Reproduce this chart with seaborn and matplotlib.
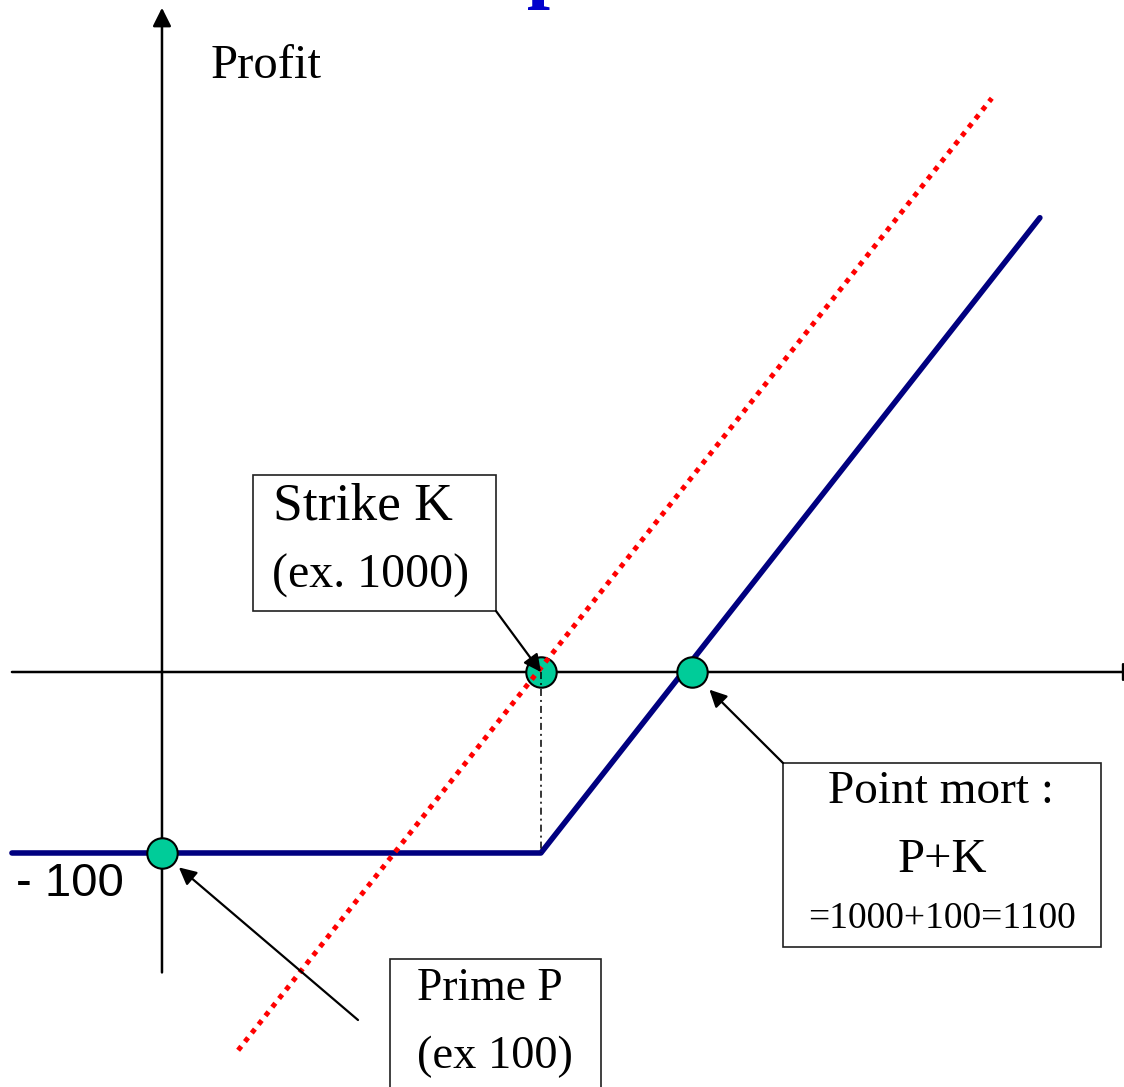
import pandas as pd
import seaborn as sns
import matplotlib.pyplot as plt
from matplotlib.patches import Rectangle

# Schematic units: x = position along the price axis (strike drawn at 1000),
# y = profit. The drawing is not to scale, like the original slide.
call_x = [-396, 1000, 2317]
call_y = [-100, -100, 251]
underlying_x = [201, 2190]
underlying_y = [-209, 317]
strike_x = [1000, 1000]
strike_y = [0, -100]
points_x = [0, 1000, 1398]
points_y = [-100, 0, 0]

W, H = 1124, 1087


def fx(px):
    return px / W


def fy(py):
    return 1 - py / H


sns.set_theme(style="white")
plt.rcParams["font.family"] = ["Liberation Serif", "DejaVu Serif"]
plt.rcParams["text.color"] = "black"

fig = plt.figure(figsize=(W / 100, H / 100), dpi=100)
ax = fig.add_axes([0, 0, 1, 1])

# axes with arrows
ax.annotate("", xy=(0, 367), xytext=(0, -166),
            arrowprops=dict(arrowstyle="-|>", color="black", lw=1.8,
                            mutation_scale=28, shrinkA=0, shrinkB=0))
ax.annotate("", xy=(2585, 0), xytext=(-396, 0), annotation_clip=False,
            arrowprops=dict(arrowstyle="-|>", color="black", lw=1.8,
                            mutation_scale=28, shrinkA=0, shrinkB=0))

# call profit (blue) and underlying (red dotted)
df_call = pd.DataFrame({"x": call_x, "y": call_y})
sns.lineplot(data=df_call, x="x", y="y", ax=ax, color="#000080", lw=4,
             sort=False, zorder=3)

df_pts = pd.DataFrame({"x": points_x, "y": points_y})
sns.scatterplot(data=df_pts, x="x", y="y", ax=ax, s=480, color="#00CC99",
                edgecolor="black", linewidth=1.5, zorder=4)

df_und = pd.DataFrame({"x": underlying_x, "y": underlying_y})
sns.lineplot(data=df_und, x="x", y="y", ax=ax, color="red", lw=3.6,
             linestyle=(0, (1, 1.2)), dash_capstyle="butt", sort=False, zorder=5)

df_k = pd.DataFrame({"x": strike_x, "y": strike_y})
sns.lineplot(data=df_k, x="x", y="y", ax=ax, color="black", lw=1.1,
             linestyle=(0, (4.6, 2.6, 1.3, 2.6)), sort=False, zorder=5,
             estimator=None)

ax.set_xlim(-427.5, 2539)
ax.set_ylim(-229.3, 371.3)
ax.axis("off")

# texts
serif = ["Liberation Serif", "DejaVu Serif"]
fig.text(fx(527), fy(10.5), "p", fontsize=60, fontweight="bold",
         color="#0000CC", va="bottom", ha="left", family=serif)
fig.text(fx(211), fy(78), "Profit", fontsize=35, va="baseline", ha="left")
fig.text(fx(16), fy(896), "- 100", fontsize=34, va="baseline", ha="left",
         family=["Liberation Sans", "DejaVu Sans"])

# boxes
for (x0, y0, x1, y1) in [(253, 475, 496, 611), (783, 763, 1101, 947),
                         (390, 959, 601, 1110)]:
    ax.add_patch(Rectangle((fx(x0), fy(y1)), fx(x1) - fx(x0), fy(y0) - fy(y1),
                           transform=fig.transFigure, fill=False,
                           edgecolor="#202020", lw=1.2, clip_on=False, zorder=6))

fig.text(fx(273), fy(519), "Strike K", fontsize=38.5, va="baseline", ha="left")
fig.text(fx(272), fy(588), "(ex. 1000)", fontsize=34.5, va="baseline", ha="left")
fig.text(fx(941), fy(803), "Point mort :", fontsize=34, va="baseline", ha="center")
fig.text(fx(942), fy(872), "P+K", fontsize=35, va="baseline", ha="center")
fig.text(fx(942), fy(928), "=1000+100=1100", fontsize=27, va="baseline", ha="center")
fig.text(fx(490), fy(1000), "Prime P", fontsize=32.8, va="baseline", ha="center")
fig.text(fx(494.5), fy(1068), "(ex 100)", fontsize=33.5, va="baseline", ha="center")

# arrows from boxes to the points
arrow = dict(arrowstyle="-|>", color="black", lw=1.6, mutation_scale=26, shrinkA=0)
ax.annotate("", xy=(points_x[1], points_y[1]), xytext=(fx(496), fy(611)),
            textcoords="figure fraction",
            arrowprops=dict(arrow, shrinkB=0), zorder=7)
ax.annotate("", xy=(points_x[2], points_y[2]), xytext=(fx(783), fy(763)),
            textcoords="figure fraction",
            arrowprops=dict(arrow, shrinkB=18), zorder=7)
ax.annotate("", xy=(points_x[0], points_y[0]), xytext=(fx(358), fy(1020)),
            textcoords="figure fraction",
            arrowprops=dict(arrow, shrinkB=16), zorder=7)

fig.savefig("out.png", dpi=100)
plt.close(fig)
